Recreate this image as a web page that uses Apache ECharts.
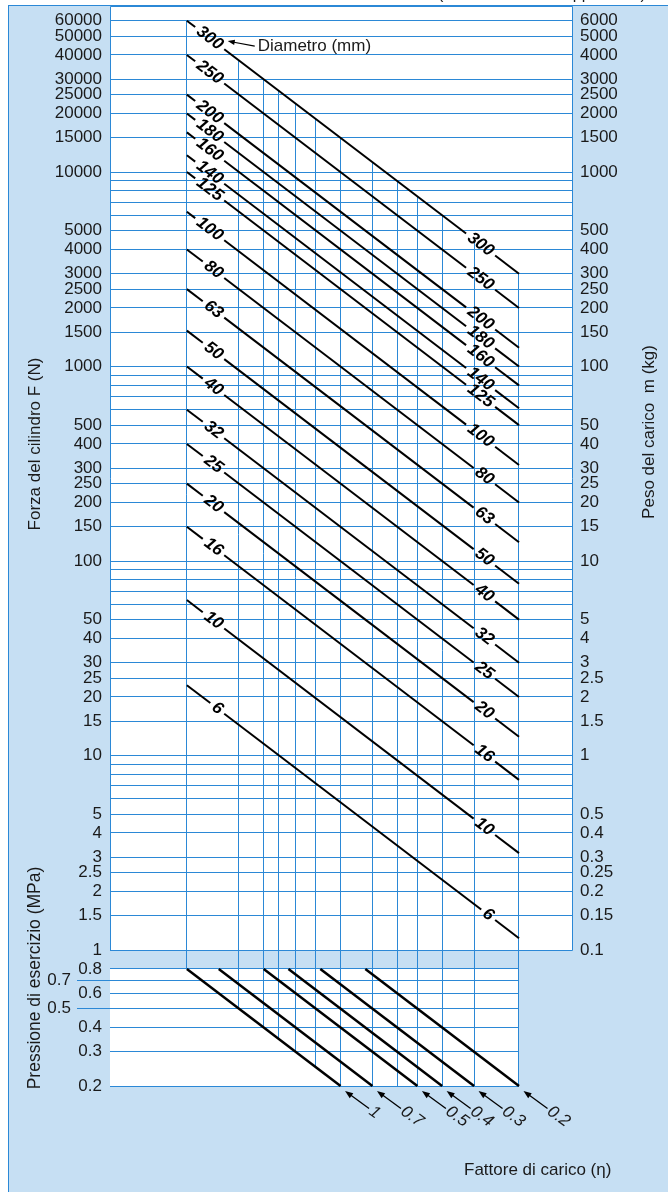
<!DOCTYPE html>
<html><head><meta charset="utf-8">
<script src="https://cdn.jsdelivr.net/npm/echarts@6/dist/echarts.min.js"></script>
<style>
html,body{margin:0;padding:0;background:#fff;}
#panel{position:absolute;left:8px;top:5px;width:660px;height:1187px;background:#c6dff3;border-left:1px solid #2b88d6;border-top:1px solid #2b88d6;}
#chart{position:absolute;left:0;top:0;width:668px;height:1192px;}
</style></head><body>
<div id="panel"></div><div id="chart"></div>
<script>
// ---------------- data ----------------
const diameters    = ['300','250','200','180','160','140','125','100','80','63','50','40','32','25','20','16','10','6'];
// cylinder force F (N) at effective pressure p·η = 0.8 MPa (left end) and 0.04 MPa (right end)
const forceAtStart = [60000,40000,25000,20000,16000,12200,10000,6250,4000,2500,1530,1000,600,400,250,150,63,23];
const forceAtEnd   = [3000,2000,1250,1000,800,610,500,312,200,125,76.5,50,30,20,12.5,7.5,3.15,1.15];
const lineStartX   = 0.8;
const lineEndX     = 0.04;

const forceTicks  = [60000,50000,40000,30000,25000,20000,15000,10000,5000,4000,3000,2500,2000,1500,1000,500,400,300,250,200,150,100,50,40,30,25,20,15,10,5,4,3,2.5,2,1.5,1];
const forceMinor  = [9000,8000,7000,6000,900,800,700,600,90,80,70,60,9,8,7,6];
const massTicks   = [6000,5000,4000,3000,2500,2000,1500,1000,500,400,300,250,200,150,100,50,40,30,25,20,15,10,5,4,3,2.5,2,1.5,1,0.5,0.4,0.3,0.25,0.2,0.15,0.1];
const pressureTicks = [0.8,0.7,0.6,0.5,0.4,0.3,0.2];
const shiftedPressureLabels = [0.7,0.5];

// vertical guide lines (effective pressure p·η), their top force and bottom pressure
const vLineX       = [0.8,0.5,0.4,0.35,0.3,0.25,0.2,0.15,0.12,0.1,0.08,0.06,0.04];
const vLineTopF    = [60000,37500,30000,26250,22500,18750,15000,11250,9000,7500,6000,4500,3000];
const vLineBottomP = [0.8,0.5,0.4,0.35,0.3,0.25,0.2,0.2,0.2,0.2,0.2,0.2,0.2];

// load factor lines
const etaLabels = ['1','0.7','0.5','0.4','0.3','0.2'];
const etaStartX = [0.8,0.6,0.4,0.32,0.24,0.16];
const etaEndX   = [0.2,0.15,0.1,0.08,0.06,0.04];
const etaStartP = 0.8, etaEndP = 0.2;

// ---------------- axis extents ----------------
const X_MIN = 0.0248, X_MAX = 1.6;
const Y_MIN = 0.2, Y_MAX = 71400;
const LOWER_RIGHT_X = 0.04;

const FONT = "'Liberation Sans', Arial, Helvetica, sans-serif";
const TXT = '#1a1a1a';
const GRID = '#2b88d6';
const crisp = v => Math.round(v - 0.5) + 0.5;
const fmt = v => String(+Number(v).toPrecision(6));

function lineEl(p, q, w, color) {
  return {type:'line', shape:{x1:p[0], y1:p[1], x2:q[0], y2:q[1]}, style:{stroke:color, lineWidth:w}};
}
function arrowHead(tip, dir, len, half, color) {
  const bx = tip[0] + dir[0]*len, by = tip[1] + dir[1]*len;
  const nx = -dir[1], ny = dir[0];
  return {type:'polygon', shape:{points:[[tip[0],tip[1]],[bx+nx*half, by+ny*half],[bx-nx*half, by-ny*half]]}, style:{fill:color}};
}
function textEl(pos, rot, text, o) {
  return {type:'text', x:pos[0], y:pos[1], rotation:rot, style:Object.assign({
    text, fill:'#000', fontSize:17, fontFamily:FONT, align:'center', verticalAlign:'middle'}, o || {})};
}

const chart = echarts.init(document.getElementById('chart'));

const hiddenAxisParts = {axisLine:{show:false}, axisTick:{show:false}, splitLine:{show:false}, axisLabel:{show:false}};

const option = {
  animation: false,
  backgroundColor: 'transparent',
  grid: {left:110, right:96, top:6, bottom:106, show:false},
  xAxis: {type:'log', min:X_MIN, max:X_MAX, inverse:true, show:false},
  yAxis: [
    Object.assign({type:'log', min:Y_MIN, max:Y_MAX, position:'left'}, hiddenAxisParts),
    Object.assign({type:'log', min:Y_MIN/10, max:Y_MAX/10, position:'right'}, hiddenAxisParts)
  ],
  graphic: [
    {type:'text', left:438, top:-13, silent:true, style:{text:'(Valori teorici: vedi pp. 12-13)', fontSize:16, fill:TXT, fontFamily:FONT}},
    {type:'text', x:35, y:444, rotation:Math.PI/2, silent:true, style:{text:'Forza del cilindro F (N)', fontSize:17, fill:TXT, fontFamily:FONT, align:'center', verticalAlign:'middle'}},
    {type:'text', x:649, y:432, rotation:Math.PI/2, silent:true, style:{text:'Peso del carico  m (kg)', fontSize:17, fill:TXT, fontFamily:FONT, align:'center', verticalAlign:'middle'}},
    {type:'text', x:35, y:978, rotation:Math.PI/2, silent:true, style:{text:'Pressione di esercizio (MPa)', fontSize:17.5, fill:TXT, fontFamily:FONT, align:'center', verticalAlign:'middle'}},
    {type:'text', left:464, top:1162, silent:true, style:{text:'Fattore di carico (η)', fontSize:17, fill:TXT, fontFamily:FONT}}
  ],
  series: [
    // white plot backgrounds + upper frame
    {type:'custom', z:1, silent:true, data:[[X_MAX, Y_MAX]], encode:{x:0, y:1},
     renderItem:(params, api) => {
       const a = api.coord([X_MAX, Y_MAX]), b = api.coord([X_MIN, 1]);
       const c = api.coord([X_MAX, etaStartP]), d = api.coord([LOWER_RIGHT_X, etaEndP]);
       return {type:'group', children:[
         {type:'rect', shape:{x:c[0], y:c[1], width:d[0]-c[0], height:d[1]-c[1]}, style:{fill:'#fff'}},
         {type:'rect', shape:{x:crisp(a[0]), y:crisp(a[1]), width:Math.round(b[0]-a[0]), height:Math.round(b[1]-a[1])}, style:{fill:'#fff', stroke:GRID, lineWidth:1}}
       ]};
     }},
    // left tick labels: force (N) and pressure (MPa)
    {type:'custom', z:3, silent:true, data:forceTicks.concat(pressureTicks).map(v => [X_MAX, v]), encode:{x:0, y:1},
     renderItem:(params, api) => {
       const v = api.value(1);
       const p = api.coord([X_MAX, v]);
       const shift = shiftedPressureLabels.map(fmt).includes(fmt(v)) && pressureTicks.indexOf(v) >= 0 ? 31 : 0;
       return textEl([p[0] - 8 - shift, p[1]], 0, fmt(v), {align:'right', fill:TXT});
     }},
    // right tick labels: mass (kg)
    {type:'custom', z:3, silent:true, yAxisIndex:1, data:massTicks.map(v => [X_MIN, v]), encode:{x:0, y:1},
     renderItem:(params, api) => {
       const v = api.value(1);
       const p = api.coord([X_MIN, v]);
       return textEl([p[0] + 8, p[1]], 0, fmt(v), {align:'left', fill:TXT});
     }},
    // horizontal grid lines (upper)
    {type:'custom', z:2, silent:true, data:forceTicks.concat(forceMinor).map(v => [X_MAX, v]), encode:{x:0, y:1},
     renderItem:(params, api) => {
       const v = api.value(1);
       const p = api.coord([X_MAX, v]), q = api.coord([X_MIN, v]);
       const y = crisp(p[1]);
       return lineEl([p[0], y], [q[0], y], 1, GRID);
     }},
    // horizontal grid lines (pressure)
    {type:'custom', z:2, silent:true, data:pressureTicks.map(v => [X_MAX, v]), encode:{x:0, y:1},
     renderItem:(params, api) => {
       const v = api.value(1);
       const p = api.coord([X_MAX, v]), q = api.coord([LOWER_RIGHT_X, v]);
       const y = crisp(p[1]);
       const ext = shiftedPressureLabels.map(fmt).includes(fmt(v)) ? 33 : 0;
       return lineEl([p[0] - ext, y], [q[0], y], 1, GRID);
     }},
    // vertical guide lines
    {type:'custom', z:2, silent:true, data:vLineX.map((x, i) => [x, vLineTopF[i], vLineBottomP[i]]), encode:{x:0, y:[1,2]},
     renderItem:(params, api) => {
       const t = api.coord([api.value(0), api.value(1)]), b = api.coord([api.value(0), api.value(2)]);
       const x = crisp(t[0]);
       return lineEl([x, t[1]], [x, b[1]], 1, GRID);
     }},
    // diameter lines
    {type:'custom', z:5, silent:true,
     data:diameters.map((d, i) => [lineStartX, forceAtStart[i], lineEndX, forceAtEnd[i]]), encode:{x:[0,2], y:[1,3]},
     renderItem:(params, api) => {
       const i = params.dataIndex;
       const p0 = api.coord([api.value(0), api.value(1)]);
       const p1 = api.coord([api.value(2), api.value(3)]);
       const dx = p1[0]-p0[0], dy = p1[1]-p0[1], L = Math.hypot(dx, dy);
       const u = [dx/L, dy/L];
       const at = s => [p0[0]+u[0]*s, p0[1]+u[1]*s];
       const txt = diameters[i];
       const tw = txt.length * 9.5;
       const rot = -Math.atan2(dy, dx);
       const ls = 47, pad = 4, re = 30;
       const children = [
         lineEl(p0, at(ls - 2*pad - tw), 2, '#000'),
         lineEl(at(ls), at(L - re - 2*pad - tw), 2, '#000'),
         lineEl(at(L - re), p1, 2, '#000'),
         textEl(at(ls - pad - tw/2), rot, txt, {fontWeight:'bold', fontStyle:'italic'}),
         textEl(at(L - re - pad - tw/2), rot, txt, {fontWeight:'bold', fontStyle:'italic'})
       ];
       if (i === 0) {
         const c = at(ls - pad - tw/2);
         const tip = [c[0]+18, c[1]+3], tail = [c[0]+45, c[1]+8];
         const ad = [tail[0]-tip[0], tail[1]-tip[1]], al = Math.hypot(ad[0], ad[1]);
         const au = [ad[0]/al, ad[1]/al];
         children.push(lineEl([tip[0]+au[0]*5, tip[1]+au[1]*5], tail, 1.2, '#000'));
         children.push(arrowHead(tip, au, 7, 2.6, '#000'));
         children.push(textEl([tail[0]+3, tail[1]+0.5], 0, 'Diametro (mm)', {align:'left', fill:TXT}));
       }
       return {type:'group', children};
     }},
    // load factor lines
    {type:'custom', z:5, silent:true,
     data:etaLabels.map((e, i) => [etaStartX[i], etaStartP, etaEndX[i], etaEndP]), encode:{x:[0,2], y:[1,3]},
     renderItem:(params, api) => {
       const i = params.dataIndex;
       const p0 = api.coord([api.value(0), api.value(1)]);
       const p1 = api.coord([api.value(2), api.value(3)]);
       const tip = [p1[0]+4.5, p1[1]+5], tail = [p1[0]+28.5, p1[1]+22.5];
       const ad = [tail[0]-tip[0], tail[1]-tip[1]], al = Math.hypot(ad[0], ad[1]);
       const au = [ad[0]/al, ad[1]/al];
       return {type:'group', children:[
         lineEl(p0, p1, 2.5, '#000'),
         lineEl([tip[0]+au[0]*6, tip[1]+au[1]*6], tail, 1.3, '#000'),
         arrowHead(tip, au, 8, 3, '#000'),
         textEl([tail[0]+au[0]*2, tail[1]+au[1]*2], -Math.atan2(au[1], au[0]), etaLabels[i], {align:'left', fontStyle:'italic', fill:TXT})
       ]};
     }}
  ]
};
chart.setOption(option);
</script>
</body></html>
